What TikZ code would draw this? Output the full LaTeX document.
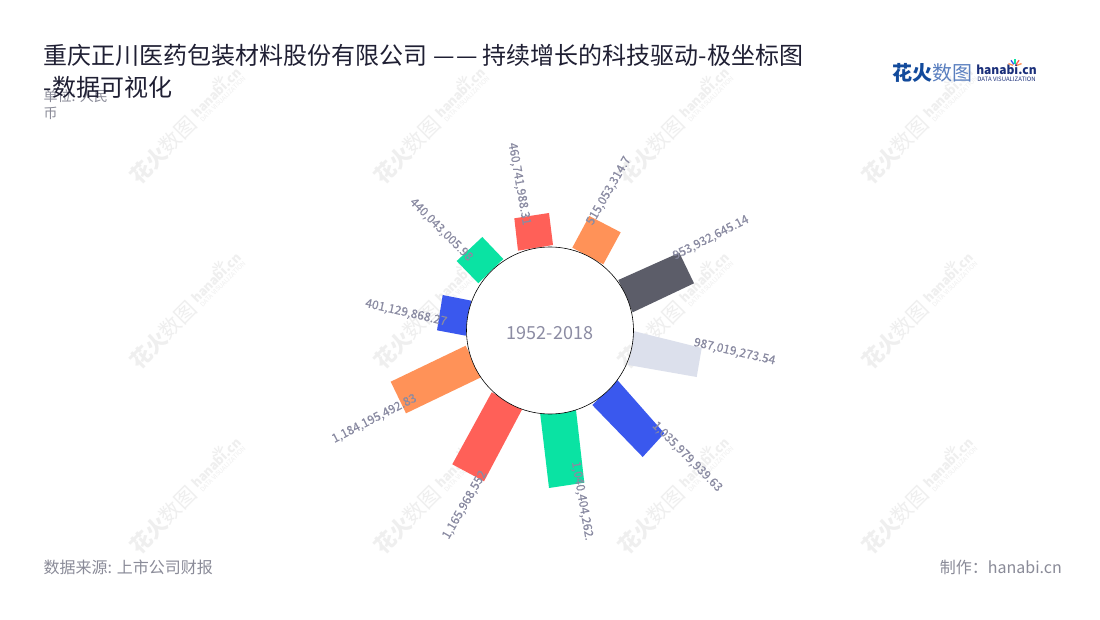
\documentclass[tikz,border=0pt]{standalone}
\usepackage{fontspec}
\setmainfont{Noto Sans CJK SC}
\newfontfamily\valfont[FakeBold=0.35]{Noto Sans CJK SC}
\usetikzlibrary{calc}
\definecolor{txtgray}{HTML}{8C8CA3}
\definecolor{labelc}{HTML}{8A8BA2}
\definecolor{titlec}{HTML}{1F1F33}
\definecolor{footc}{HTML}{8A8B98}
\definecolor{wmc}{HTML}{EFEFEF}
\definecolor{cOrange}{HTML}{FF9258}
\definecolor{cRed}{HTML}{FF6058}
\definecolor{cGreen}{HTML}{0AE3A3}
\definecolor{cBlue}{HTML}{3A58EE}
\definecolor{cDark}{HTML}{5C5D69}
\definecolor{cLight}{HTML}{DCE0EC}
\definecolor{logoA}{HTML}{124A9C}
\definecolor{logoB}{HTML}{5A7FBF}
\definecolor{logoC}{HTML}{1A2F7A}
\newcommand{\fs}[1]{\fontsize{#1}{#1}\selectfont}
% logo: #1 name prefix, #2 heavy colour, #3 light colour, #4 latin colour, #5-#8 spark colours
\newcommand{\brandlogo}[8]{%
  \node[inner sep=0pt,text=#2,anchor=east] (#1a) at (0.5,0) {\fs{20}\bfseries 花火};
  \node[inner sep=0pt,text=#3,anchor=west] (#1b) at (0,0) {\fs{20}数图};
  \node[inner sep=0pt,text=#4] (#1c) at (74.5,-3) {\fs{12}\bfseries hanabi.cn};
  \node[inner sep=0pt,text=#4] (#1d) at (74.5,6) {\fs{6}DATA VISUALIZATION};
  \coordinate (#1s) at (83,-7);
  \foreach \ang/\col in {20/#5,55/#6,90/#7,125/#8,160/#5}{
    \draw[sparkray,draw=\col] ($(#1s)+(\ang:2pt)$) -- ($(#1s)+(\ang:7pt)$);
  }
}
\tikzset{
  sparkray/.style={line width=1.3pt},
  barshape/.style={draw=none},
  vallabel/.style={inner sep=0pt,text=labelc,font=\valfont\fs{12}},
}
\newcommand{\watermarks}[1]{%
  \foreach \cx [count=\ci] in {163,407,651,895}{
    \foreach \cy [count=\cj] in {150,335,520}{
      \begin{scope}[shift={(\cx,\cy)},rotate=45,scale=1.05,transform shape]
        \brandlogo{#1\ci\cj}{wmc}{wmc}{wmc}{wmc}{wmc}{wmc}{wmc}
      \end{scope}
    }
  }
}
\begin{document}
\begin{tikzpicture}[x=1pt,y=-1pt]
\useasboundingbox (0,0) rectangle (1100,620);
\fill[white] (0,0) rectangle (1100,620);

\watermarks{wa}

% bars
\fill[barshape,cGreen] (482.3,237) -- (503.3,259) -- (478.3,283.3) -- (456.7,261) -- cycle;
\fill[barshape,cRed] (514.3,218.3) -- (549,213) -- (553,245) -- (518,250.7) -- cycle;
\fill[barshape,cOrange] (589.3,216) -- (620.7,232.3) -- (603.3,264.3) -- (572.3,247.7) -- cycle;
\fill[barshape,cDark] (618.3,280) -- (679.3,252.7) -- (694,283.3) -- (632.7,312.3) -- cycle;
\fill[barshape,cLight] (633.3,331) -- (701.7,348) -- (696.7,377) -- (628.3,365) -- cycle;
\fill[barshape,cBlue] (617.3,380) -- (664.3,433.3) -- (642.7,457) -- (592.3,405) -- cycle;
\fill[barshape,cGreen] (576,410) -- (584.3,482.7) -- (549,488) -- (540,412) -- cycle;
\fill[barshape,cRed] (491.7,392.3) -- (522.3,409) -- (484,481.3) -- (452.3,464.3) -- cycle;
\fill[barshape,cOrange] (465.7,345.7) -- (481,377.3) -- (406,413.3) -- (390.7,381.7) -- cycle;
\fill[barshape,cBlue] (442.7,295) -- (471.3,300.7) -- (465.7,335.7) -- (437,330.3) -- cycle;

% inner disc: white, with the watermark showing on it
\coordinate (c) at (550,330.5);
\fill[white] (c) circle[radius=83.5pt];
\begin{scope}
  \clip (c) circle[radius=83.5pt];
  \watermarks{wb}
\end{scope}
\draw[black,line width=0.6pt] (c) circle[radius=83.5pt];

\node[inner sep=0pt,text=txtgray] (centre) at (550,333) {\fs{18}1952-2018};

% value labels
\node[vallabel,rotate=-80] (v1) at (519,184) {460,741,988.31};
\node[vallabel,rotate=60] (v2) at (609,191) {515,053,314.7};
\node[vallabel,rotate=27] (v3) at (711,238) {953,932,645.14};
\node[vallabel,rotate=-13] (v4) at (734.5,352) {987,019,273.54};
\node[vallabel,rotate=-45] (v5) at (687,457) {1,035,979,939.63};
\node[vallabel,rotate=-80] (v6) at (582,501) {1,040,404,262.};
\node[vallabel,rotate=60] (v7) at (465,505) {1,165,968,552};
\node[vallabel,rotate=27] (v8) at (374.5,419) {1,184,195,492.83};
\node[vallabel,rotate=-13] (v9) at (406,313) {401,129,868.27};
\node[vallabel,rotate=-45] (v10) at (441,230) {440,043,005.98};

% unit and title
\node[inner sep=0pt,anchor=west,text=footc] (unit1) at (43.5,96.5) {\fs{14}单位: 人民};
\node[inner sep=0pt,anchor=west,text=footc] (unit2) at (43.5,113.5) {\fs{14}币};
\node[inner sep=0pt,anchor=west,text=titlec] (title1) at (43.5,55) {\fs{24}重庆正川医药包装材料股份有限公司 —\kern1.5pt— 持续增长的科技驱动-极坐标图};
\node[inner sep=0pt,anchor=west,text=titlec] (title2) at (43.5,87) {\fs{24}-数据可视化};

% top-right logo
\begin{scope}[shift={(932,73)}]
  \brandlogo{lg}{logoA}{logoB}{logoC}{cOrange}{cRed}{cGreen}{cBlue}
\end{scope}

% footer
\node[inner sep=0pt,anchor=west,text=footc] (src) at (43.5,567) {\fs{16}数据来源: 上市公司财报};
\node[inner sep=0pt,anchor=east,text=footc] (made) at (1062,567) {\fs{16}制作：hanabi.cn};
\end{tikzpicture}
\end{document}
